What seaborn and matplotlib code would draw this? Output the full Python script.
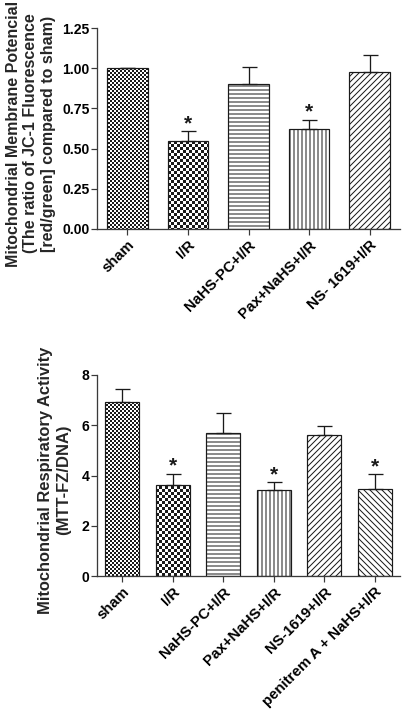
import warnings
import numpy as np
import pandas as pd
import matplotlib
matplotlib.use('Agg')
import matplotlib.pyplot as plt
import matplotlib.hatch as mhatch
from matplotlib.path import Path
import seaborn as sns

warnings.filterwarnings("ignore", message=".*hatch.*")

DPI = 72

# top panel: membrane potential (JC-1 red/green, relative to sham)
groups_top = ["sham", "I/R", "NaHS-PC+I/R", "Pax+NaHS+I/R", "NS- 1619+I/R"]
jc1_mean = [1.00, 0.55, 0.90, 0.62, 0.975]
jc1_err = [0.00, 0.06, 0.11, 0.06, 0.11]
jc1_sig = [False, True, False, True, False]

# bottom panel: respiratory activity (MTT-FZ/DNA)
groups_bot = ["sham", "I/R", "NaHS-PC+I/R", "Pax+NaHS+I/R", "NS-1619+I/R",
              "penitrem A + NaHS+I/R"]
mtt_mean = [6.93, 3.62, 5.68, 3.42, 5.60, 3.47]
mtt_err = [0.52, 0.45, 0.82, 0.32, 0.37, 0.58]
mtt_sig = [False, True, False, True, False, True]

HATCHES = ["ccc", "cc", "---", "|||", "////", "\\\\\\\\"]
INK = "#1a1a1a"
AXIS = "#3a3a3a"


class CheckerHatch(mhatch.HatchPatternBase):
    """Filled checkerboard hatch, 'c' repeated sets the density."""

    def __init__(self, hatch, density):
        self.cells = 12 * hatch.count('c')
        self.num_vertices = (self.cells ** 2 // 2) * 5

    def set_vertices_and_codes(self, vertices, codes):
        step = 1.0 / self.cells
        pad = 0.5 / DPI  # leave room for the 1px hatch stroke
        squares = []
        for i in range(self.cells):
            for j in range(self.cells):
                if (i + j) % 2 == 0:
                    x0, y0 = i * step + pad, j * step + pad
                    x1, y1 = (i + 1) * step - pad, (j + 1) * step - pad
                    squares.append([[x0, y0], [x1, y0], [x1, y1], [x0, y1], [x0, y0]])
        vertices[:] = np.array(squares).reshape(-1, 2)
        codes[:] = np.tile([Path.MOVETO, Path.LINETO, Path.LINETO,
                            Path.LINETO, Path.CLOSEPOLY], len(squares))


mhatch._hatch_types.append(CheckerHatch)

sns.set_theme(style="ticks")
plt.rcParams['font.family'] = ['Liberation Sans', 'DejaVu Sans']
plt.rcParams['font.weight'] = 'bold'
plt.rcParams['axes.labelweight'] = 'bold'
plt.rcParams['hatch.linewidth'] = 1.0


def draw_panel(ax, groups, means, errs, sig, ylabel, yticks, fmt, label_xy,
               label_size):
    df = pd.DataFrame({"group": groups, "value": means})
    sns.barplot(data=df, x="group", y="value", ax=ax, color="white",
                saturation=1, width=0.67, errorbar=None,
                edgecolor=INK, linewidth=1.2, zorder=2)
    for patch, h in zip(ax.patches, HATCHES):
        patch.set_hatch(h)

    x = np.arange(len(groups))
    ax.errorbar(x, means, yerr=[np.zeros(len(errs)), errs], fmt="none",
                ecolor=INK, elinewidth=1.3, capsize=7.5, capthick=1.3, zorder=3)
    for xi, m, e, s in zip(x, means, errs, sig):
        if s:
            ax.annotate("*", (xi, m + e), xytext=(0, 2), textcoords="offset points",
                        ha="center", va="baseline", fontsize=21, fontweight="bold",
                        color=INK)

    ax.set_ylim(yticks[0], yticks[-1])
    ax.set_yticks(yticks)
    ax.set_yticklabels([fmt.format(t) for t in yticks])
    ax.set_xlim(-0.5, len(groups) - 0.5)
    ax.set_xticks(x)
    ax.set_xticklabels(groups, rotation=45, ha="right", rotation_mode="anchor",
                       fontsize=15)
    ax.set_xlabel("")
    ax.set_ylabel(ylabel, fontsize=label_size, va="center", linespacing=1.2)
    ax.yaxis.set_label_coords(*label_xy)

    sns.despine(ax=ax)
    for side in ["left", "bottom"]:
        ax.spines[side].set_color(AXIS)
        ax.spines[side].set_linewidth(1.3)
    ax.tick_params(axis="both", length=6, width=1.2, color=AXIS,
                   labelcolor="black")
    ax.tick_params(axis="y", pad=1.5, labelsize=14)
    ax.tick_params(axis="x", pad=3)


fig = plt.figure(figsize=(406 / DPI, 714 / DPI), dpi=DPI)
ax1 = fig.add_axes([97 / 406, 1 - 229 / 714, 303 / 406, 201 / 714])
ax2 = fig.add_axes([97 / 406, 1 - 576 / 714, 303 / 406, 201 / 714])

draw_panel(ax1, groups_top, jc1_mean, jc1_err, jc1_sig,
           "Mitochondrial Membrane Potencial\n(The ratio of JC-1 Fluorescence\n"
           "[red/green] compared to sham)",
           [0, 0.25, 0.5, 0.75, 1.0, 1.25], "{:.2f}", (-0.219, 0.475), 16)
draw_panel(ax2, groups_bot, mtt_mean, mtt_err, mtt_sig,
           "Mitochondrial Respiratory Activity\n(MTT-FZ/DNA)",
           [0, 2, 4, 6, 8], "{:.0f}", (-0.140, 0.478), 16.5)

fig.savefig("out.png", dpi=DPI)
